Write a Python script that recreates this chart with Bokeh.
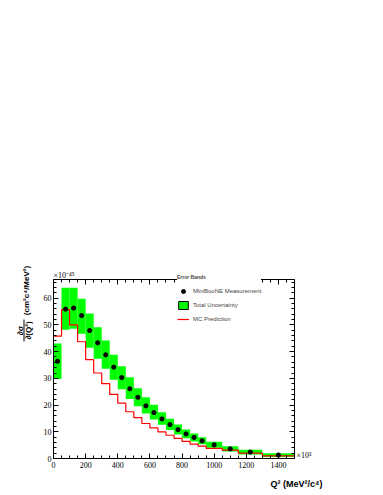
import math
from bokeh.plotting import figure
from bokeh.models import (Range1d, FixedTicker, LinearAxis, Legend, LegendItem,
                          Label, BoxAnnotation, CustomLabelingPolicy,
                          ColumnDataSource, Selection)
from bokeh.embed import file_html
from bokeh.resources import INLINE

# ---------------- data ----------------
bin_edges = [0, 50, 100, 150, 200, 250, 300, 350, 400, 450, 500, 550, 600,
             650, 700, 750, 800, 850, 900, 950, 1050, 1150, 1300, 1500]
data_xsec = [36.4, 55.9, 56.3, 53.5, 47.9, 43.3, 38.8, 34.2, 30.3, 26.1, 22.9,
             19.7, 17.2, 14.8, 12.7, 10.8, 9.2, 7.9, 6.6, 5.1, 3.6, 2.4, 1.3]
band_low = [29.8, 48.2, 48.6, 46.7, 41.5, 37.3, 33.6, 29.5, 25.9, 22.3, 19.6,
            16.8, 14.6, 12.6, 10.7, 9.0, 7.6, 6.4, 5.3, 4.0, 2.6, 1.5, 0.6]
band_high = [43.0, 63.9, 63.9, 59.8, 54.3, 49.1, 44.2, 38.8, 34.5, 30.4, 26.3,
             22.9, 20.1, 17.3, 14.9, 12.7, 10.9, 9.4, 8.0, 6.3, 4.6, 3.3, 2.0]
mc_pred = [45.8, 55.7, 50.0, 43.7, 37.0, 32.0, 28.0, 24.0, 20.7, 17.5, 15.3,
           13.1, 11.5, 10.0, 8.7, 7.5, 6.4, 5.4, 4.6, 3.8, 3.1, 2.0, 1.0]
x_major_ticks = [0, 200, 400, 600, 800, 1000, 1200, 1400]
y_major_ticks = [0, 10, 20, 30, 40, 50, 60]
legend_labels = ["MiniBooNE Measurement", "Total Uncertainty", "MC Prediction"]
X_MAX, Y_MAX = 1500, 67

left_edges = bin_edges[:-1]
right_edges = bin_edges[1:]
centers = [(a + b) / 2 for a, b in zip(left_edges, right_edges)]

GREEN = "#00ff00"
RED = "#ff0000"
SERIF = "Liberation Serif"
SANS = "Liberation Sans"

# ---------------- layout: the ROOT frame inside a full-canvas Bokeh frame ----------------
W, H = 380, 492
FL, FR, FT, FB = 53, 294, 279, 458          # frame edges in canvas pixels
kx = (FR - FL) / X_MAX
ky = (FB - FT) / Y_MAX
x_range = Range1d(-FL / kx, (W - FL) / kx)
y_range = Range1d(-(H - FB) / ky, FB / ky)

p = figure(width=W, height=H, output_backend="svg", toolbar_location=None,
           x_range=x_range, y_range=y_range,
           min_border=0, min_border_left=0, min_border_right=0,
           min_border_top=0, min_border_bottom=0,
           x_axis_type=None, y_axis_type=None)
p.outline_line_color = None
p.background_fill_color = "white"
p.border_fill_color = "white"

# ---------------- axes (ROOT-like frame with inner ticks) ----------------
x_minor = list(range(0, X_MAX + 1, 50))
y_minor = list(range(0, Y_MAX, 2))
no_labels = CustomLabelingPolicy(code="return []")

def make_axis(ticks, minor, loc, bounds, labels=True):
    ax = LinearAxis(ticker=FixedTicker(ticks=ticks, minor_ticks=minor),
                    fixed_location=loc, bounds=bounds)
    ax.axis_line_color = "black"
    ax.axis_line_width = 1
    ax.major_tick_in = 5
    ax.major_tick_out = 0
    ax.minor_tick_in = 3
    ax.minor_tick_out = 0
    ax.major_tick_line_color = "black"
    ax.minor_tick_line_color = "black"
    ax.major_label_text_font = SERIF
    ax.major_label_text_font_size = "8px"
    ax.major_label_text_color = "black"
    if not labels:
        ax.major_label_policy = no_labels
    return ax

xb = make_axis(x_major_ticks, x_minor, 0, (0, X_MAX))
xb.major_label_standoff = 3
p.add_layout(xb, "below")
xt = make_axis(x_major_ticks, x_minor, Y_MAX, (0, X_MAX), labels=False)
p.add_layout(xt, "above")
yl = make_axis(y_major_ticks, y_minor, 0, (0, Y_MAX))
yl.major_label_standoff = 2
p.add_layout(yl, "left")
yr = make_axis(y_major_ticks, y_minor, X_MAX, (0, Y_MAX), labels=False)
p.add_layout(yr, "right")

# ---------------- glyphs ----------------
band_data = dict(left=left_edges, right=right_edges, bottom=band_low, top=band_high)
r_band = p.quad(left="left", right="right", bottom="bottom", top="top",
                source=ColumnDataSource(band_data), fill_color=GREEN, line_color=None)
# same data, drawn invisibly in the plot: only gives the legend its outlined box
leg_src = ColumnDataSource(band_data, selected=Selection(indices=[0]))
r_band_leg = p.quad(left="left", right="right", bottom="bottom", top="top",
                    source=leg_src, fill_color=GREEN, line_color="black", line_width=1,
                    selection_fill_alpha=0, selection_line_alpha=0,
                    nonselection_fill_alpha=0, nonselection_line_alpha=0)
r_mc = p.step(x=bin_edges, y=mc_pred + [mc_pred[-1]], mode="after",
              line_color=RED, line_width=1.2)
r_dots = p.scatter(x=centers, y=data_xsec, size=4.2, marker="circle",
                   fill_color="black", line_color="black")

# ---------------- legend ----------------
LEG_L, LEG_B = 177, 324
legend = Legend(items=[LegendItem(label=legend_labels[0], renderers=[r_dots]),
                       LegendItem(label=legend_labels[1], renderers=[r_band_leg]),
                       LegendItem(label=legend_labels[2], renderers=[r_mc])],
                location=(LEG_L, H - LEG_B), title="Error Bands",
                title_text_font=SANS, title_text_font_style="bold",
                title_text_font_size="5px", title_standoff=6,
                label_text_font=SANS, label_text_font_size="6px",
                glyph_width=12, glyph_height=10, label_standoff=4,
                spacing=4, padding=2, margin=0,
                border_line_color=None, background_fill_color="white",
                background_fill_alpha=1.0)
p.add_layout(legend)

# ---------------- texts (screen coords from the canvas bottom-left) ----------------
def sy(py):
    return H - py

def add_text(px, py, text, font, size, bold=False, align="left", angle=0.0):
    p.add_layout(Label(x=px, y=sy(py), x_units="screen", y_units="screen",
                       text=text, text_font=font, text_font_size=size,
                       text_font_style="bold" if bold else "normal",
                       text_align=align, text_baseline="middle",
                       angle=angle, text_color="black"))

add_text(53, 275, "×10⁻⁴⁵", SERIF, "8px")
add_text(296, 455, "×10³", SERIF, "8px")
add_text(322, 483, "Q² (MeV²/c⁴)", SANS, "9px", bold=True, align="right")

# y-axis title: fraction d sigma / d(Q^2) followed by units, rotated
ang = math.pi / 2
add_text(26, 290, "(cm²c⁴/MeV²)", SANS, "8px", bold=True, align="center", angle=ang)
add_text(19.5, 330, "∂σ", SANS, "8px", bold=True, align="center", angle=ang)
add_text(28, 330, "∂(Q²)", SANS, "8px", bold=True, align="center", angle=ang)
p.add_layout(BoxAnnotation(left=23, right=24, bottom=sy(341), top=sy(319),
                           left_units="screen", right_units="screen",
                           bottom_units="screen", top_units="screen",
                           fill_color="black", fill_alpha=1.0, line_color=None))

open("out.html", "w").write(file_html(p, INLINE))
